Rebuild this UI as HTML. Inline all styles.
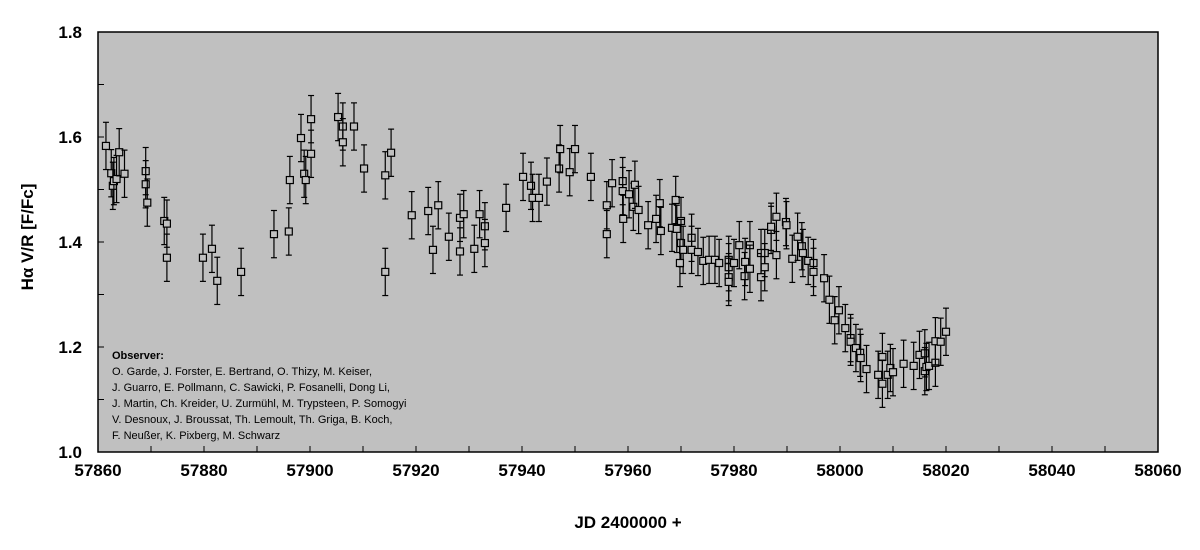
<!DOCTYPE html>
<html><head><meta charset="utf-8"><style>
body{margin:0;background:#fff;width:1200px;height:550px;overflow:hidden}
svg{display:block;font-family:"Liberation Sans",Arial,sans-serif}
</style></head><body>
<svg id="chart" width="1200" height="550">
<rect x="98" y="32" width="1060" height="420" fill="#c0c0c0" stroke="#000" stroke-width="1.5"/>
<g id="ticks"></g>
<g id="marks"></g>
<text x="33" y="237" transform="rotate(-90 33 237)" text-anchor="middle" font-size="17" font-weight="bold">Hα V/R [F/Fc]</text>
<text x="628" y="528" text-anchor="middle" font-size="17" font-weight="bold">JD 2400000 +</text>
<g font-size="11" fill="#000">
<text x="112" y="359" font-weight="bold">Observer:</text>
<text x="112" y="375">O. Garde, J. Forster, E. Bertrand, O. Thizy, M. Keiser,</text>
<text x="112" y="391">J. Guarro, E. Pollmann, C. Sawicki, P. Fosanelli, Dong Li,</text>
<text x="112" y="407">J. Martin, Ch. Kreider, U. Zurmühl, M. Trypsteen, P. Somogyi</text>
<text x="112" y="423">V. Desnoux, J. Broussat, Th. Lemoult, Th. Griga, B. Koch,</text>
<text x="112" y="439">F. Neußer, K. Pixberg, M. Schwarz</text>
</g>
</svg>
<script>
const xTicks=[57860,57880,57900,57920,57940,57960,57980,58000,58020,58040,58060];
const yTicks=[1.0,1.2,1.4,1.6,1.8];
const jd=[57861.5,57862.5,57862.8,57863,57863.5,57864,57865,57869,57869,57869.3,57872.5,57873,57873,57879.8,57881.5,57882.5,57887,57893.2,57896,57896.2,57898.3,57898.9,57899.2,57900.2,57900.2,57905.3,57906.2,57906.2,57908.3,57910.2,57914.2,57914.2,57915.3,57919.2,57922.3,57923.2,57924.2,57926.2,57928.3,57928.3,57929,57931,57932,57933,57933,57937,57940.2,57941.7,57942,57943.2,57944.7,57947,57947.2,57949,57950,57953,57956,57956,57957,57959,57959,57959.1,57960.2,57961,57961.3,57962,57963.8,57965.3,57966,57966.2,57968.3,57969,57969.2,57970,57970,57970.4,57969.8,57972,57972,57973.2,57974.2,57975.3,57976.4,57977.2,57979,57979,57979,57979,57980,57981,57982,57982.1,57983,57983,57985.1,57985.1,57985.8,57985.8,57987,57987,57988,57988,57989.8,57989.9,57991,57992,57992.8,57993,57994,57995,57995,57997,57998,57999,57999.8,58001,58002,58002,58003,58003.8,58003.9,58005,58007.2,58008,58008,58009,58009.5,58010,58012,58013.9,58015,58016,58016,58016.3,58016.8,58018,58018,58019,58020];
const vr=[1.583,1.531,1.507,1.516,1.52,1.571,1.53,1.535,1.51,1.475,1.44,1.435,1.37,1.37,1.387,1.326,1.343,1.415,1.42,1.518,1.598,1.53,1.518,1.634,1.568,1.638,1.62,1.59,1.62,1.54,1.527,1.343,1.57,1.451,1.459,1.385,1.47,1.41,1.446,1.382,1.453,1.387,1.453,1.43,1.398,1.465,1.524,1.507,1.484,1.484,1.515,1.54,1.577,1.533,1.577,1.524,1.47,1.415,1.512,1.516,1.497,1.444,1.491,1.467,1.509,1.461,1.432,1.444,1.474,1.421,1.427,1.48,1.425,1.44,1.398,1.385,1.36,1.408,1.385,1.381,1.364,1.366,1.366,1.36,1.366,1.352,1.333,1.324,1.36,1.394,1.335,1.362,1.394,1.349,1.379,1.333,1.379,1.352,1.423,1.429,1.448,1.375,1.438,1.432,1.368,1.41,1.392,1.379,1.364,1.36,1.343,1.331,1.29,1.251,1.27,1.236,1.217,1.21,1.198,1.189,1.179,1.158,1.147,1.181,1.13,1.147,1.16,1.152,1.168,1.164,1.185,1.188,1.154,1.162,1.164,1.17,1.211,1.21,1.229];
const err=0.045;
const X=v=>98+(v-57860)*1060/200;
const Y=v=>452-(v-1.0)*420/0.8;
const NS='http://www.w3.org/2000/svg';
const tg=document.getElementById('ticks'),mg=document.getElementById('marks');
function mk(tag,attrs,parent){const e=document.createElementNS(NS,tag);for(const k in attrs)e.setAttribute(k,attrs[k]);parent.appendChild(e);return e;}
for(let d=57870;d<58060;d+=10){const l=mk('line',{x1:X(d),x2:X(d),y1:452,y2:446,stroke:'#000'},tg);

}
for(let v=1.1;v<1.8;v+=0.1){const l=mk('line',{x1:98,x2:104,y1:Y(v),y2:Y(v),stroke:'#000'},tg);

}
xTicks.forEach(t=>{const e=mk('text',{x:X(t),y:476,'text-anchor':'middle','font-size':17,'font-weight':'bold'},tg);e.textContent=t;

});
yTicks.forEach(t=>{const e=mk('text',{x:82,y:Y(t)+6,'text-anchor':'end','font-size':17,'font-weight':'bold'},tg);e.textContent=t.toFixed(1);

});
jd.forEach((d,i)=>{const x=X(d),y=Y(vr[i]),t=Y(vr[i]+err),b=Y(vr[i]-err);
const g=mk('g',{stroke:'#000','stroke-width':1.2,fill:'none'},mg);


mk('line',{x1:x,x2:x,y1:t,y2:b},g);
mk('line',{x1:x-3,x2:x+3,y1:t,y2:t},g);
mk('line',{x1:x-3,x2:x+3,y1:b,y2:b},g);
mk('rect',{x:x-3.5,y:y-3.5,width:7,height:7,fill:'#c0c0c0'},g);});
</script>
</body></html>
